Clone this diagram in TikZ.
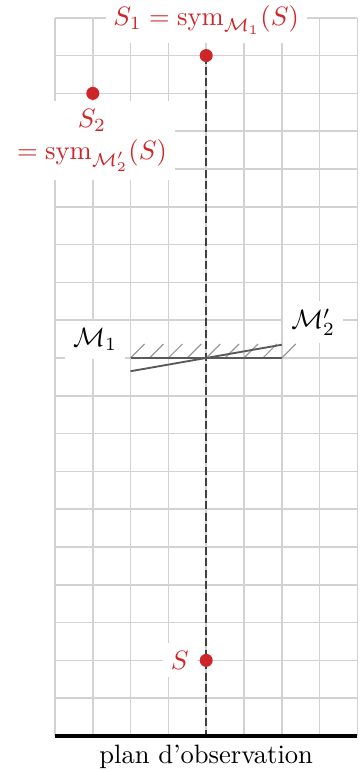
\documentclass[tikz,border=0pt]{standalone}
\usepackage{amsmath}
\definecolor{ptred}{RGB}{206,37,40}
\begin{document}
\begin{tikzpicture}[x=0.5cm,y=0.5cm,
  gridline/.style={gray!35, line width=0.6pt},
  lbl/.style={fill=white, inner sep=3pt, text=ptred},
  mlbl/.style={fill=white, inner sep=3pt, text=black},
  dot/.style={circle, fill=ptred, inner sep=0pt, minimum size=4.9pt},
  axisline/.style={black!75, dash pattern=on 3pt off 1.3pt, line width=0.6pt},
  mirror/.style={black!65, line width=0.7pt},
  hatch/.style={black!40, line width=0.45pt},
  ground/.style={black, line width=1.6pt}]
\useasboundingbox (-1.455,-0.926) rectangle (8.148,19.47);
\draw[gridline, step=0.5cm] (0,0) grid (8,19);
% labels with white background
\node[lbl] (l1) at (4,18.94) {$S_1=\mathrm{sym}_{\mathcal{M}_1}(S)$};
\node[lbl, align=center] (l2) at (0.98,15.75) {$S_2$\\$=\mathrm{sym}_{\mathcal{M}'_2}(S)$};
\node[lbl] (ls) at (3.3,2) {$S$};
\node[mlbl] (lm1) at (1.06,10.48) {$\mathcal{M}_1$};
\node[mlbl] (lm2) at (6.83,10.95) {$\mathcal{M}'_2$};
% coordinates
\coordinate (m1a) at (2,10);
\coordinate (m1b) at (6,10);
\coordinate (m2a) at (2,9.65);
\coordinate (m2b) at (6,10.35);
\coordinate (base) at (4,0);
\coordinate (g0) at (0,0);
\coordinate (g1) at (8,0);
% dashed axis
\coordinate (s1c) at (4,18);
\draw[axisline] (s1c) -- (base);
% mirrors
\foreach \x in {2,2.5,...,6} \draw[hatch] (\x,10) -- ++(0.37,0.37);
\draw[mirror] (m1a) -- (m1b);
\draw[mirror] (m2a) -- (m2b);
% points
\node[dot] (s1) at (s1c) {};
\node[dot] (s2) at (1,17) {};
\node[dot] (s) at (4,2) {};
% ground
\draw[ground] (g0) -- (g1);
\node (plan) at (4,-0.55) {plan d'observation};
\end{tikzpicture}
\end{document}
